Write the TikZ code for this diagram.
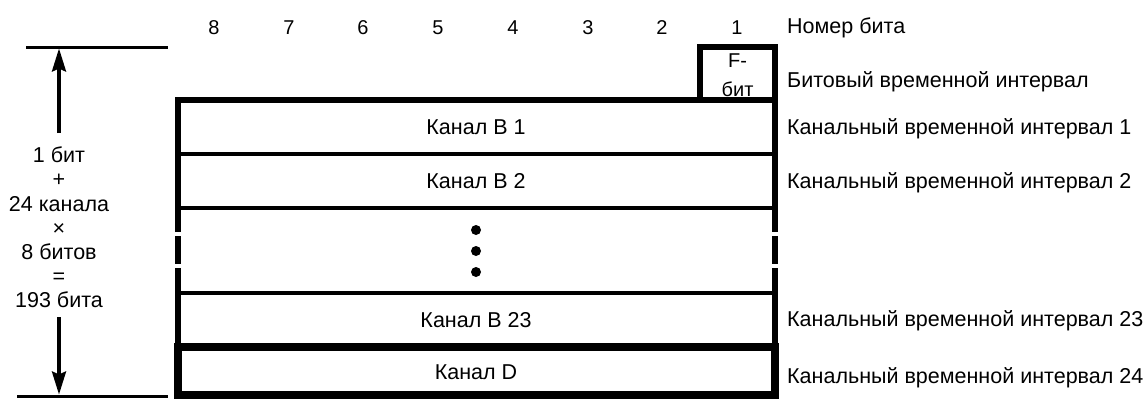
\documentclass[tikz,border=0pt]{standalone}
\usepackage{fontspec}
\setmainfont{Liberation Sans}
\usetikzlibrary{arrows.meta}
\begin{document}
\begin{tikzpicture}[x=1pt,y=-1pt,
  outer/.style={line width=6pt,line join=miter},
  inner/.style={line width=4pt},
  heavy/.style={line width=8pt,line join=miter},
  dimline/.style={line width=3pt},
  dimarrow/.style={line width=3.5pt,-{Stealth[length=23pt,width=14pt,inset=3pt]}},
  lbl/.style={font=\fontsize{21.5}{24.2}\selectfont,inner sep=0pt},
  small/.style={font=\fontsize{20}{29}\selectfont,inner sep=0pt},
  dotmark/.style={fill=black,draw=none}]
\useasboundingbox (0,0) rectangle (1148,399);

% frame corners
\coordinate (tl) at (178,100);
\coordinate (fl) at (700,100);
\coordinate (ftl) at (700,47);
\coordinate (ftr) at (775,47);
\coordinate (fr) at (775,100);

% bit numbers
\foreach \n/\x in {8/214,7/289,6/363,5/438,4/513,3/588,2/662,1/737}
  \node[small,anchor=base] (bit\n) at (\x,34) {\n};
\node[lbl,anchor=base west] (bitno) at (787,33) {Номер бита};

% F-bit slot and upper frame
\draw[outer] (178,232) -- (tl) -- (fl) -- (ftl) -- (ftr) -- (775,232);
\draw[outer] (fl) -- (fr);
\node[small,align=center,anchor=base] (fbit) at (737.5,96) {F-\\бит};

% broken side walls
\draw[outer] (178,236) -- (178,264);
\draw[outer] (775,236) -- (775,264);
\draw[outer] (178,268) -- (178,347);
\draw[outer] (775,268) -- (775,347);

% row separators
\draw[inner] (178,154) -- (775,154);
\draw[inner] (178,208) -- (775,208);
\draw[inner] (178,293) -- (775,293);

% D channel box
\draw[heavy] (177.5,347) rectangle (774.5,395);

% row labels
\node[lbl,anchor=base] (b1) at (476,134) {Канал B 1};
\node[lbl,anchor=base] (b2) at (476,188) {Канал B 2};
\node[lbl,anchor=base] (b23) at (476,327) {Канал B 23};
\node[lbl,anchor=base] (dch) at (476,379) {Канал D};

% ellipsis dots
\fill[dotmark] (476,230) circle (5);
\fill[dotmark] (476,251) circle (5);
\fill[dotmark] (476,272) circle (5);

% slot names
\node[lbl,anchor=base west] (tsf) at (787,87) {Битовый временной интервал};
\node[lbl,anchor=base west] (ts1) at (787,134.5) {Канальный временной интервал 1};
\node[lbl,anchor=base west] (ts2) at (787,188.5) {Канальный временной интервал 2};
\node[lbl,anchor=base west] (ts23) at (787,326) {Канальный временной интервал 23};
\node[lbl,anchor=base west] (ts24) at (787,383) {Канальный временной интервал 24};

% frame length dimension
\coordinate (dtl) at (26,47);
\coordinate (dtr) at (168,47);
\coordinate (dbl) at (17,396);
\coordinate (dbr) at (168,396);
\draw[dimline] (dtl) -- (dtr);
\draw[dimline] (dbl) -- (dbr);
\node[lbl,align=center] (sum) at (59,227.5)
  {1 бит\\+\\24 канала\\×\\8 битов\\=\\193 бита};
\coordinate (atop) at (59,133);
\coordinate (abot) at (59,317);
\draw[dimarrow] (atop) -- (59,48.5);
\draw[dimarrow] (abot) -- (59,394.5);
\end{tikzpicture}
\end{document}
